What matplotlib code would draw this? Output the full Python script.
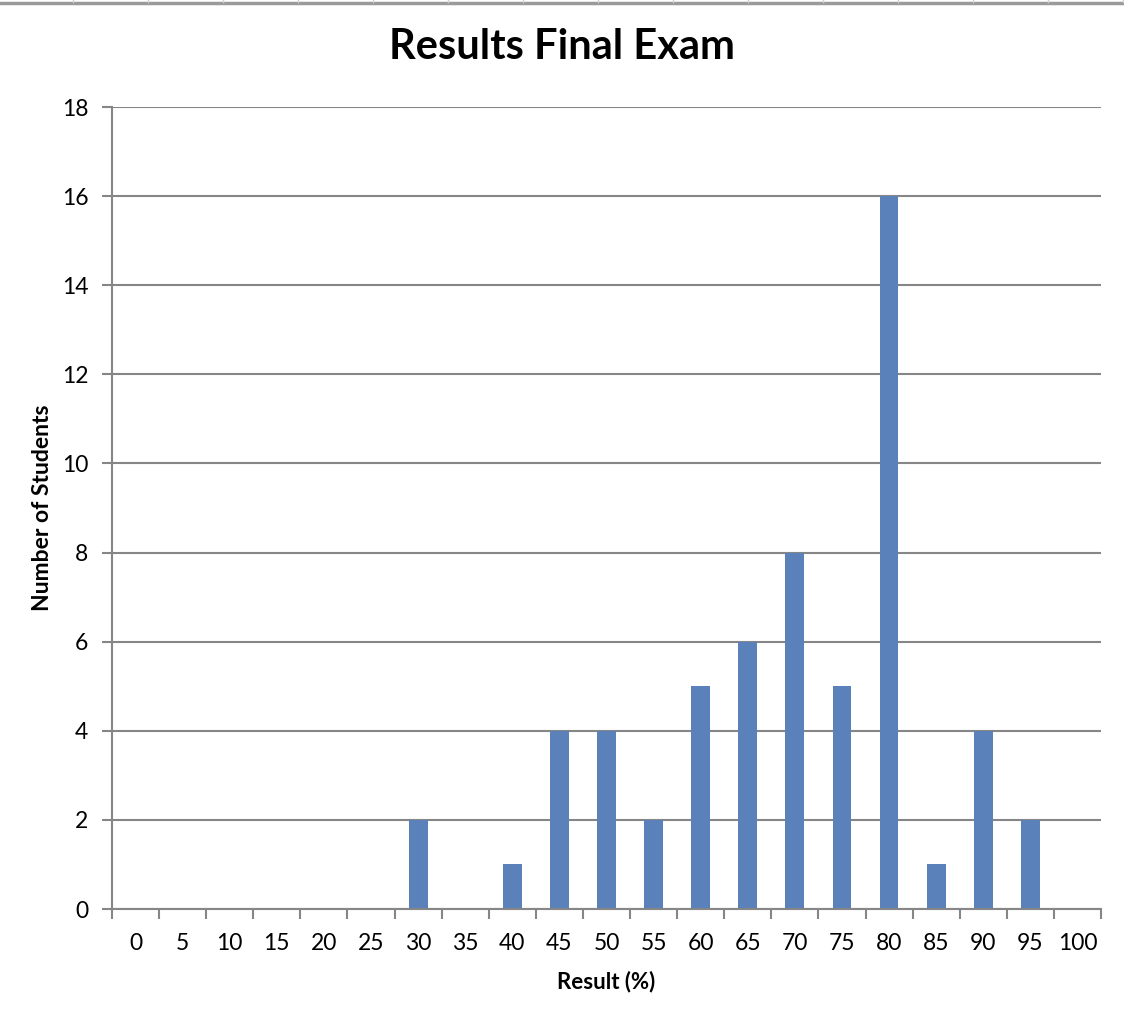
import matplotlib
matplotlib.use("Agg")
import matplotlib.pyplot as plt
from matplotlib.lines import Line2D

plt.rcParams['font.family'] = ['Lato', 'DejaVu Sans']

categories = [str(v) for v in range(0, 101, 5)]
counts = [0, 0, 0, 0, 0, 0, 2, 0, 1, 4, 4, 2, 5, 6, 8, 5, 16, 1, 4, 2, 0]
y_ticks = list(range(0, 19, 2))

W, H = 1124, 1016
fig = plt.figure(figsize=(W / 100, H / 100), dpi=100)
ax = fig.add_axes([112 / W, 1 - 909 / H, (1101 - 112) / W, (909 - 107) / H])

grey = '#868686'
pos = list(range(len(categories)))
ax.bar(pos, counts, width=0.4, color='#5A81BA', zorder=3)

ax.set_xlim(-0.5, len(categories) - 0.5)
ax.set_ylim(0, 18)
ax.set_yticks(y_ticks)
ax.set_yticklabels([str(v) for v in y_ticks], fontsize=16.5)
ax.yaxis.grid(True, color=grey, linewidth=1.5, zorder=0)

ax.set_xticks([p - 0.5 for p in pos] + [len(categories) - 0.5])
ax.set_xticklabels([])
ax.set_xticks(pos, minor=True)
ax.set_xticklabels(categories, minor=True, fontsize=16.5)
ax.tick_params(axis='x', which='major', length=7, width=1.5, color=grey, direction='out')
ax.tick_params(axis='x', which='minor', length=0, pad=17)
ax.tick_params(axis='y', length=7, width=1.5, color=grey, pad=10)

for s in ['top', 'right']:
    ax.spines[s].set_visible(False)
for s in ['left', 'bottom']:
    ax.spines[s].set_color(grey)
    ax.spines[s].set_linewidth(1.5)
ax.spines['bottom'].set_zorder(4)

ax.set_xlabel('Result (%)', fontsize=16, fontweight='bold', labelpad=12)
ax.set_ylabel('Number of Students', fontsize=16.5, fontweight='bold', labelpad=6)

fig.text(0.5, 1 - 47 / H, 'Results Final Exam', ha='center', va='center',
         fontsize=30, fontweight='bold')

# spreadsheet frame line at the very top
fig.add_artist(Line2D([0, 1], [1 - 2.5 / H, 1 - 2.5 / H], color='#9a9a9a',
                      linewidth=2.5, transform=fig.transFigure))
for xp in range(73, 1124, 75):
    fig.add_artist(Line2D([xp / W, xp / W], [1 - 2 / H, 1], color='#d0d0d0',
                          linewidth=1, transform=fig.transFigure))

fig.savefig('out.png', dpi=100)
